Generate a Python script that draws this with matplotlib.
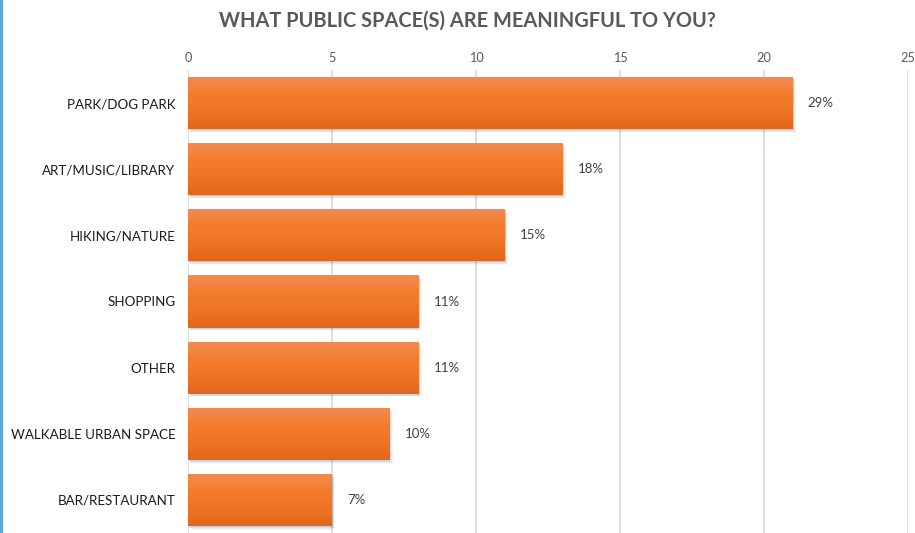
import matplotlib
matplotlib.use('Agg')
import matplotlib.pyplot as plt
import matplotlib.transforms as mtransforms
from matplotlib.patches import Rectangle
import numpy as np

plt.rcParams['font.family'] = ['Lato', 'DejaVu Sans']

categories = ['PARK/DOG PARK', 'ART/MUSIC/LIBRARY', 'HIKING/NATURE', 'SHOPPING',
              'OTHER', 'WALKABLE URBAN SPACE', 'BAR/RESTAURANT']
counts = [21, 13, 11, 8, 8, 7, 5]
pct_labels = ['29%', '18%', '15%', '11%', '11%', '10%', '7%']
x_ticks = [0, 5, 10, 15, 20, 25]

fig = plt.figure(figsize=(9.15, 5.33), dpi=100)
ax = fig.add_axes([188 / 915, 0, 720 / 915, 463 / 533])

y = np.arange(len(categories))

# vertical gridlines
for t in x_ticks:
    ax.axvline(t, color='#d9d9d9', lw=1.2, zorder=0)

# soft drop shadow under each bar
for yy, c in zip(y, counts):
    for k, a in [(4, 0.05), (3, 0.07), (2, 0.09), (1, 0.1)]:
        off = mtransforms.offset_copy(ax.transData, fig=fig, x=k * 0.8, y=-k * 0.9, units='dots')
        ax.add_patch(Rectangle((0, yy - 0.395), c, 0.79, transform=off,
                               facecolor='#555555', alpha=a, lw=0, zorder=1))

bars = ax.barh(y, counts, height=0.79, color='#f27b2c', zorder=2)

# vertical gradient fill
grad = np.linspace(0, 1, 64).reshape(-1, 1)
cmap = matplotlib.colors.LinearSegmentedColormap.from_list(
    'bar', ['#f08b56', '#f47d2d', '#ee7424', '#e3661a'])
for b in bars:
    x0, y0 = b.get_x(), b.get_y()
    w, h = b.get_width(), b.get_height()
    im = ax.imshow(grad, cmap=cmap, aspect='auto', extent=(x0, x0 + w, y0 + h, y0),
                   zorder=3, interpolation='bilinear')
    im.set_clip_path(b)
ax.set_xlim(0, 25)
ax.set_ylim(len(categories) - 0.5, -0.5)

for yy, c, lab in zip(y, counts, pct_labels):
    ax.annotate(lab, (c, yy), xytext=(15, 0), textcoords='offset pixels',
                va='center', ha='left', fontsize=9.5, color='#404040')

ax.set_yticks(y)
ax.set_yticklabels(categories, fontsize=9.6, color='#1a1a1a')
ax.set_xticks(x_ticks)
ax.xaxis.tick_top()
ax.tick_params(axis='x', length=0, pad=4, labelsize=9.2, labelcolor='#595959')
ax.tick_params(axis='y', length=0, pad=9)
for s in ax.spines.values():
    s.set_visible(False)

fig.text(0.511, 0.962, 'WHAT PUBLIC SPACE(S) ARE MEANINGFUL TO YOU?', ha='center', va='center',
         fontsize=14.4, fontweight='bold', color='#595959')

# blue edge on the left
fig.add_artist(plt.Line2D([0.0015, 0.0015], [0, 1], transform=fig.transFigure,
                          color='#5aa9e3', lw=2.2))

fig.savefig('out.png', dpi=100)
